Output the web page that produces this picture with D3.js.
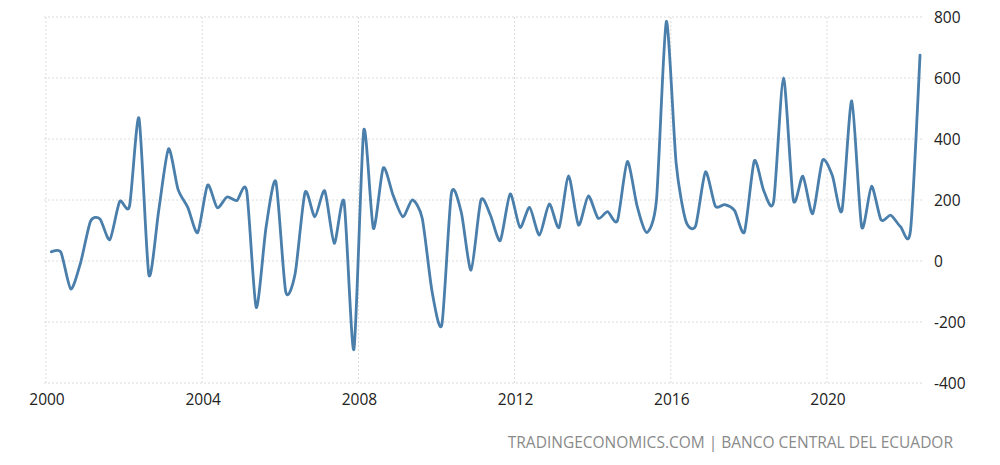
<!DOCTYPE html>
<html>
<head>
<meta charset="utf-8">
<script src="https://cdn.jsdelivr.net/npm/d3@7"></script>
<style>
  body { margin: 0; background: #fff; }
  svg { display: block; font-family: "Open Sans", sans-serif; }
</style>
</head>
<body>
<div id="chart"></div>
<script>
// quarterly series, first quarter of 2000 to second quarter of 2022
const startYear = 2000;
const values = [
  30, 28, -92, -5, 130, 138, 70, 195, 180, 468,
  -45, 165, 368, 235, 175, 93, 249, 175, 210, 198,
  230, -152, 110, 260, -100, -40, 225, 145, 230, 58,
  194, -290, 428, 107, 305, 216, 145, 200, 140, -100,
  -208, 222, 160, -30, 200, 150, 67, 220, 110, 176,
  85, 187, 110, 279, 118, 213, 140, 162, 132, 326,
  180, 93, 200, 785, 320, 132, 115, 292, 180, 185,
  165, 95, 328, 230, 195, 600, 200, 278, 155, 330,
  280, 165, 525, 112, 245, 135, 150, 112, 100, 675
];
const yTicks = [-400, -200, 0, 200, 400, 600, 800];
const xTickYears = [2000, 2004, 2008, 2012, 2016, 2020];
const sourceLabel = "TRADINGECONOMICS.COM | BANCO CENTRAL DEL ECUADOR";

// build dates: middle of each quarter
const series = values.map((v, i) => ({
  date: new Date(startYear + Math.floor(i / 4), (i % 4) * 3 + 1, 20),
  value: v
}));

const width = 1000, height = 465;
const lineColor = "#4a7eab";
const gridColor = "#dcdcdc";

const svg = d3.select("#chart").append("svg")
  .attr("width", width)
  .attr("height", height);

const x = d3.scaleTime()
  .domain([new Date(2000, 0, 1), new Date(2020, 0, 1)])
  .range([46, 827]);

const y = d3.scaleLinear()
  .domain([-400, 800])
  .range([383, 17]);

const plotLeft = 44, plotRight = 924;

// --- grid ---
svg.append("g")
  .selectAll("line")
  .data(yTicks)
  .join("line")
  .attr("x1", plotLeft).attr("x2", plotRight)
  .attr("y1", d => y(d)).attr("y2", d => y(d))
  .attr("stroke", gridColor)
  .attr("stroke-dasharray", "2,2");

svg.append("g")
  .selectAll("line")
  .data(xTickYears)
  .join("line")
  .attr("x1", d => x(new Date(d, 0, 1))).attr("x2", d => x(new Date(d, 0, 1)))
  .attr("y1", y(800)).attr("y2", y(-400))
  .attr("stroke", gridColor)
  .attr("stroke-dasharray", "2,2");

// --- axes labels ---
svg.append("g")
  .selectAll("text")
  .data(yTicks)
  .join("text")
  .attr("x", 934)
  .attr("y", d => y(d) + 5.5)
  .attr("fill", "#222")
  .style("font-size", "15.5px")
  .text(d => d);

svg.append("g")
  .selectAll("text")
  .data(xTickYears)
  .join("text")
  .attr("x", d => x(new Date(d, 0, 1)) + 1)
  .attr("y", 405)
  .attr("text-anchor", "middle")
  .attr("fill", "#222")
  .style("font-size", "15.5px")
  .text(d => d);

// --- line ---
const line = d3.line()
  .x(d => x(d.date))
  .y(d => y(d.value))
  .curve(d3.curveCardinal.tension(0.3));

svg.append("path")
  .datum(series)
  .attr("fill", "none")
  .attr("stroke", lineColor)
  .attr("stroke-width", 2.8)
  .attr("stroke-linejoin", "round")
  .attr("stroke-linecap", "round")
  .attr("d", line);

// source
svg.append("text")
  .attr("x", 953)
  .attr("y", 448)
  .attr("text-anchor", "end")
  .attr("fill", "#8a8a8a")
  .style("font-size", "15.5px")
  .text(sourceLabel);
</script>
</body>
</html>
